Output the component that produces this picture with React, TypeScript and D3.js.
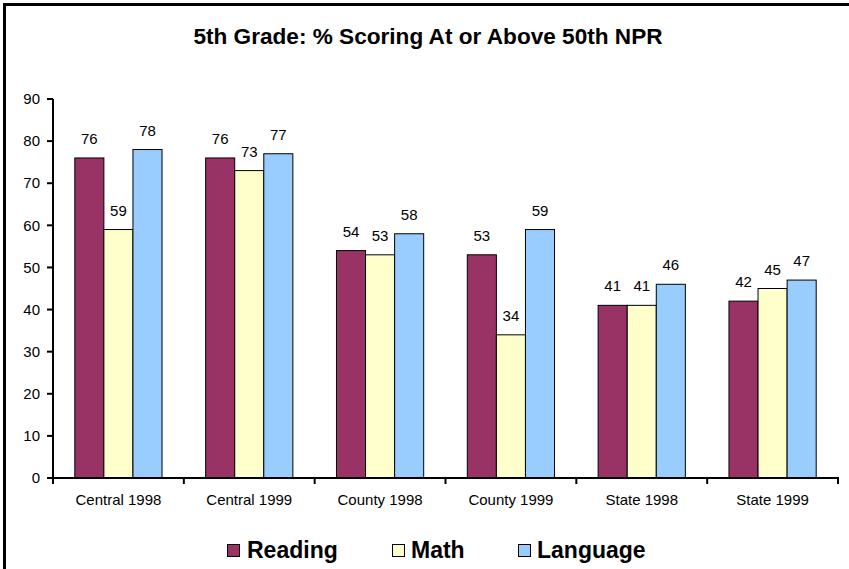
import React from "react";
import * as d3 from "d3";

const categories = ["Central 1998", "Central 1999", "County 1998", "County 1999", "State 1998", "State 1999"];
const seriesNames = ["Reading", "Math", "Language"];
const reading = [76, 76, 54, 53, 41, 42];
const math = [59, 73, 53, 34, 41, 45];
const language = [78, 77, 58, 59, 46, 47];
const yTicks = [0, 10, 20, 30, 40, 50, 60, 70, 80, 90];
const colors = ["#993366", "#FFFFCC", "#99CCFF"];

const W = 849;
const H = 569;
const FONT = "'Liberation Sans', Arial, sans-serif";

export default function App() {
  const seriesValues = [reading, math, language];
  const x0 = d3.scaleBand<string>().domain(categories).range([53, 838]).paddingInner(0).paddingOuter(0);
  const x1 = d3.scaleBand<string>().domain(seriesNames).range([0, x0.bandwidth()]).paddingInner(0).paddingOuter(0.75);
  const y = d3.scaleLinear().domain([0, 90]).range([478, 99]);

  const legendItems = [
    { name: "Reading", sx: 227, tx: 247 },
    { name: "Math", sx: 392, tx: 411 },
    { name: "Language", sx: 518, tx: 537 },
  ];

  return (
    <svg width={W} height={H} style={{ position: "absolute", left: 0, top: 0, background: "#fff" }} fontFamily={FONT}>
      <rect x={0} y={0} width={W} height={H} fill="#fff" />
      <rect x={4.5} y={4.5} width={W + 20} height={H + 20} fill="none" stroke="#000" strokeWidth={3} />
      <text x={428} y={44} textAnchor="middle" fontSize={22.6} fontWeight="bold" fill="#000">
        5th Grade: % Scoring At or Above 50th NPR
      </text>

      {/* bars */}
      {categories.map((c, ci) => (
        <g key={c} transform={`translate(${x0(c)},0)`}>
          {seriesNames.map((s, si) => {
            const v = seriesValues[si][ci];
            const bx = x1(s)!;
            return (
              <g key={s}>
                <rect x={bx} y={y(v)} width={x1.bandwidth()} height={y(0) - y(v)} fill={colors[si]} stroke="#000" strokeWidth={1} />
                <text x={bx + x1.bandwidth() / 2} y={y(v) - 14} textAnchor="middle" fontSize={15} fill="#000">
                  {v}
                </text>
              </g>
            );
          })}
        </g>
      ))}

      {/* y axis */}
      <line x1={53} x2={53} y1={y(90)} y2={y(0) + 1} stroke="#000" strokeWidth={2} />
      {yTicks.map((t) => (
        <g key={t}>
          <line x1={47} x2={53} y1={y(t)} y2={y(t)} stroke="#000" strokeWidth={2} />
          <text x={40} y={y(t)} dy="0.35em" textAnchor="end" fontSize={15} fill="#000">
            {t}
          </text>
        </g>
      ))}

      {/* x axis */}
      <line x1={52} x2={839} y1={y(0)} y2={y(0)} stroke="#000" strokeWidth={2} />
      {categories.map((c) => (
        <line key={"t" + c} x1={x0(c)!} x2={x0(c)!} y1={y(0)} y2={y(0) + 6} stroke="#000" strokeWidth={2} />
      ))}
      <line x1={838} x2={838} y1={y(0)} y2={y(0) + 6} stroke="#000" strokeWidth={2} />
      {categories.map((c) => (
        <text key={"l" + c} x={x0(c)! + x0.bandwidth() / 2} y={505} textAnchor="middle" fontSize={15} fill="#000">
          {c}
        </text>
      ))}

      {/* legend */}
      {legendItems.map((l, i) => (
        <g key={l.name}>
          <rect x={l.sx + 0.5} y={544.5} width={12} height={12} fill={colors[i]} stroke="#000" strokeWidth={1} />
          <text x={l.tx} y={558} fontSize={23} fontWeight="bold" fill="#000">
            {l.name}
          </text>
        </g>
      ))}
    </svg>
  );
}
